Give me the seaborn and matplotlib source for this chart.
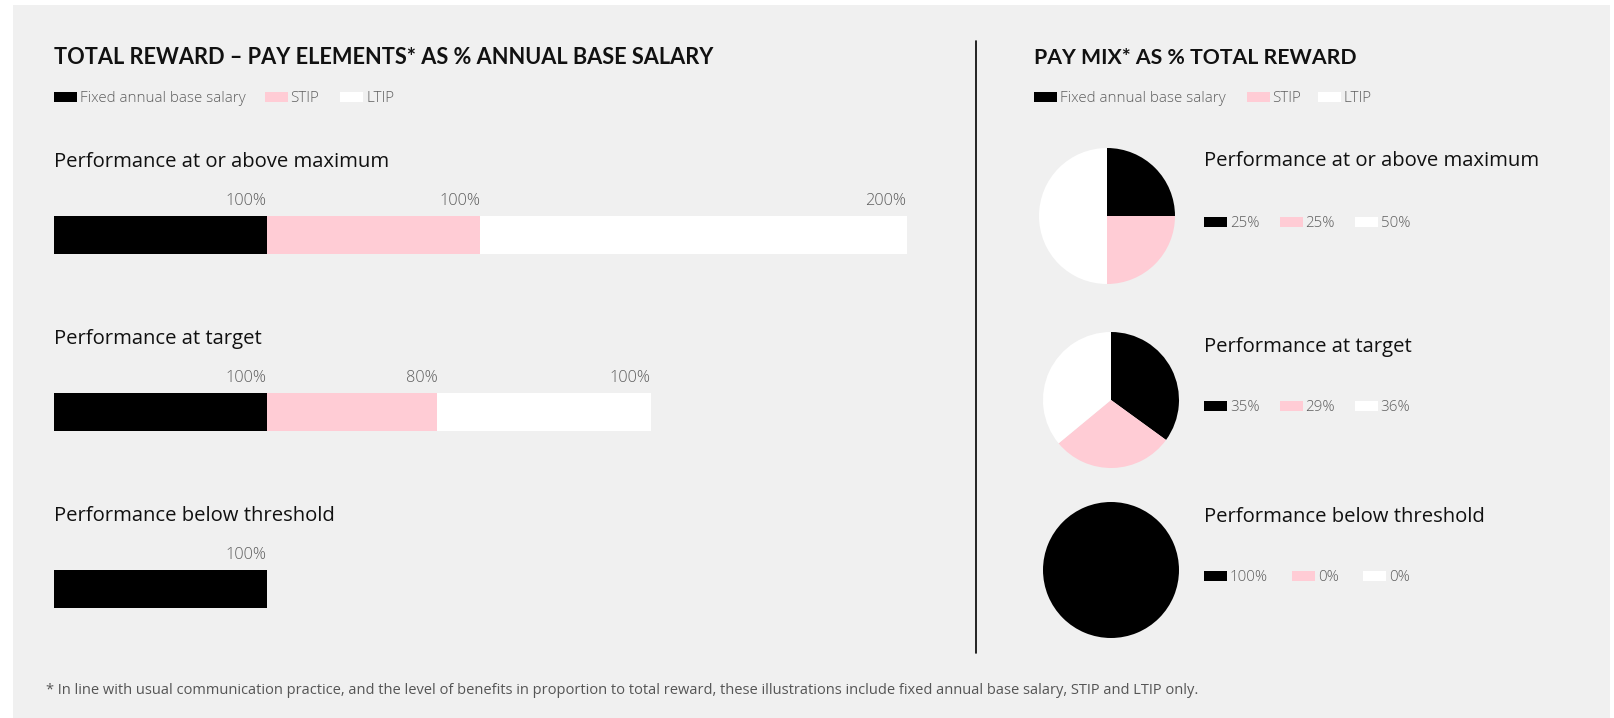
import matplotlib
matplotlib.use("Agg")
import matplotlib.pyplot as plt
from matplotlib.patches import Rectangle
import numpy as np
import pandas as pd
import seaborn as sns

# ---------------- data ----------------
components = ["Fixed annual base salary", "STIP", "LTIP"]
scenarios = ["Performance at or above maximum", "Performance at target", "Performance below threshold"]
base_pct = [100, 100, 100]
stip_pct = [100, 80, 0]
ltip_pct = [200, 100, 0]
mix_base = [25, 35, 100]
mix_stip = [25, 29, 0]
mix_ltip = [50, 36, 0]
left_title = "TOTAL REWARD \u2013 PAY ELEMENTS* AS % ANNUAL BASE SALARY"
right_title = "PAY MIX* AS % TOTAL REWARD"
footnote = ("* In line with usual communication practice, and the level of benefits in proportion to total reward, "
            "these illustrations include fixed annual base salary, STIP and LTIP only.")

colors = ["#000000", "#ffccd5", "#ffffff"]
BG = "#f0f0f0"
TXT = "#111111"
GREY = "#5e5e5e"

sns.set_theme(style="white")
plt.rcParams["font.family"] = ["Open Sans", "DejaVu Sans"]
REG = ["Open Sans", "DejaVu Sans"]
BOLD = ["Lato", "DejaVu Sans"]

W, H = 1614, 718
fig = plt.figure(figsize=(W / 100, H / 100), dpi=100, facecolor="white")
renderer = fig.canvas.get_renderer()


def rect(x0, y0, w, h):
    return [x0 / W, 1 - (y0 + h) / H, w / W, h / H]


def fit_size(s, target_w, family, weight="normal"):
    t = fig.text(0, 0, s, fontsize=10, family=family, fontweight=weight)
    w = t.get_window_extent(renderer).width
    t.remove()
    return 10 * target_w / w


def ftext(x, y, s, **kw):
    return fig.text(x / W, 1 - y / H, s, va="baseline", **kw)


def swatch(x, ytop, color, w=23, h=9.5):
    fig.patches.append(Rectangle((x / W, 1 - (ytop + h) / H), w / W, h / H,
                                 transform=fig.transFigure, facecolor=color,
                                 edgecolor="none", zorder=2))


def legend_item(x, ytop, color, label, fs):
    swatch(x, ytop, color)
    ftext(x + 26, ytop + 10, label, fontsize=fs, family=REG, color=GREY, fontweight="light")


# font sizes fitted to measured text widths of the reference
fs_title = fit_size(left_title, 660, BOLD, "bold")
fs_title_r = fit_size(right_title, 322, BOLD, "bold")
fs_row = fit_size(scenarios[0], 336, REG)
fs_leg = fit_size(components[0], 166, REG, "light")
fs_val = fit_size("100%", 41, REG, "light")
fs_foot = fit_size(footnote, 1152, REG)

# gray panel
fig.patches.append(Rectangle((13 / W, 0), 1597 / W, 1 - 5 / H,
                             transform=fig.transFigure, facecolor=BG,
                             edgecolor="none", zorder=-5))

# titles
ftext(53.5, 63.5, left_title, fontsize=fs_title, fontweight="bold", family=BOLD, color=TXT)
ftext(1033.5, 63.5, right_title, fontsize=fs_title_r, fontweight="bold", family=BOLD, color=TXT)

# top legends
for xs in ([53.5, 264.5, 340], [1033.5, 1246.5, 1317.5]):
    for x, c, lab in zip(xs, colors, components):
        legend_item(x, 92.5, c, lab, fs_leg)

# divider
fig.add_artist(plt.Line2D([975.8 / W, 975.8 / W], [1 - 41 / H, 1 - 653 / H],
                          transform=fig.transFigure, color="black", lw=1.2))

# ---------------- stacked bars ----------------
ax = fig.add_axes(rect(53.5, 146.5, 853, 531))
ax.set_facecolor("none")
cum1 = np.array(base_pct)
cum2 = cum1 + np.array(stip_pct)
cum3 = cum2 + np.array(ltip_pct)
df = pd.DataFrame({"scenario": scenarios, "base": cum1, "stip": cum2, "ltip": cum3})
for col, c in (("ltip", colors[2]), ("stip", colors[1]), ("base", colors[0])):
    sns.barplot(data=df, x=col, y="scenario", order=scenarios, orient="h", color=c,
                saturation=1, width=0.215, errorbar=None, linewidth=0, ax=ax)
ax.set_xlim(0, 400)
ax.set_ylim(2.5, -0.5)
ax.axis("off")

for i, sc in enumerate(scenarios):
    ax.text(0, i - 0.386, sc, fontsize=fs_row, family=REG, color=TXT, va="baseline",
            ha="left", clip_on=False)
    vals = [base_pct[i], stip_pct[i], ltip_pct[i]]
    ends = [cum1[i], cum2[i], cum3[i]]
    for v, e in zip(vals, ends):
        if v > 0:
            ax.text(e, i - 0.17, f"{v}%", fontsize=fs_val, family=REG, color=GREY,
                    fontweight="light", va="baseline", ha="right", clip_on=False)

# ---------------- pies ----------------
pie_centers = [(1107, 216), (1111, 400), (1111, 570)]
R = 68
leg_x = [[1204, 1279.5, 1354.5], [1204, 1279.5, 1354.5], [1204, 1292, 1363]]
title_base = [166, 352, 522]
leg_top = [217.3, 401, 571]
for i, (cx, cy) in enumerate(pie_centers):
    pax = fig.add_axes(rect(cx - R, cy - R, 2 * R, 2 * R))
    vals = [mix_base[i], mix_stip[i], mix_ltip[i]]
    pax.pie(vals, colors=colors, startangle=90, counterclock=False,
            wedgeprops=dict(linewidth=0), radius=1)
    pax.set_xlim(-1, 1)
    pax.set_ylim(-1, 1)
    pax.set_aspect("equal")
    pax.axis("off")
    ftext(1204, title_base[i], scenarios[i], fontsize=fs_row, family=REG, color=TXT)
    for x, c, v in zip(leg_x[i], colors, vals):
        legend_item(x, leg_top[i], c, f"{v}%", fs_leg)

# footnote
ftext(46, 694.5, footnote, fontsize=fs_foot, family=REG, color="#555555")

fig.savefig("out.png", dpi=100, facecolor="white")
